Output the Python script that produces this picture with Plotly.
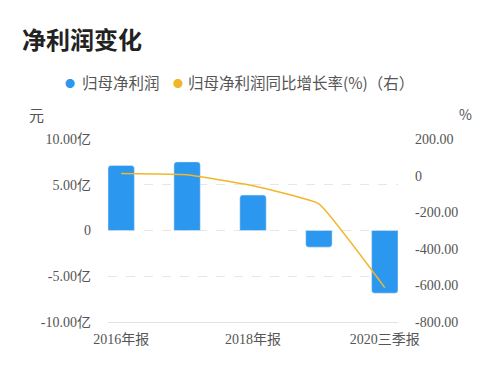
import plotly.graph_objects as go

categories = ["2016年报", "2017年报", "2018年报", "2019年报", "2020三季报"]
net_profit = [7.1, 7.5, 3.87, -1.82, -6.85]          # 亿元
yoy_growth = [11, 4, -55, -154, -612]                 # %
x_tick_cats = ["2016年报", "2018年报", "2020三季报"]
left_ticks = [10, 5, 0, -5, -10]
left_tick_text = ["10.00亿", "5.00亿", "0", "-5.00亿", "-10.00亿"]
right_ticks = [200, 0, -200, -400, -600, -800]
right_tick_text = ["200.00", "0", "-200.00", "-400.00", "-600.00", "-800.00"]

BLUE = "#2b97ee"
GOLD = "#f0b72a"
TICK_FONT = dict(family="Liberation Serif, Noto Sans CJK SC", size=14, color="#555555")
SANS = "Noto Sans CJK SC, Noto Sans, sans-serif"

# page body has an 8px offset; positions below are in figure pixels
OFF = 8
W, H = 500, 372
l, r, t, b = 108 - OFF, W - (398 - OFF), 139 - OFF, H - (322 - OFF)

fig = go.Figure()
fig.add_trace(go.Bar(
    x=categories, y=net_profit, name="归母净利润",
    marker=dict(color=BLUE, cornerradius=3), width=0.4, showlegend=False,
))
fig.add_trace(go.Scatter(
    x=categories, y=yoy_growth, name="归母净利润同比增长率(%)（右）",
    mode="lines", line=dict(color=GOLD, width=1.5, shape="spline", smoothing=0.3),
    yaxis="y2", showlegend=False,
))

fig.update_layout(
    width=W, height=H,
    margin=dict(l=l, r=r, t=t, b=b, autoexpand=False),
    paper_bgcolor="white", plot_bgcolor="white",
    xaxis=dict(
        type="category", range=[-0.2, 4.2],
        tickmode="array", tickvals=x_tick_cats, ticktext=x_tick_cats,
        showgrid=False, showline=True, linecolor="#e3e3e3", linewidth=1,
        ticks="", tickfont=TICK_FONT, ticklabelstandoff=4,
    ),
    yaxis=dict(
        range=[-10, 10], tickmode="array", tickvals=left_ticks, ticktext=left_tick_text,
        showgrid=True, gridcolor="#e6e6e6", griddash="dash", gridwidth=1,
        zeroline=False, showline=False, ticks="",
        tickfont=TICK_FONT, ticklabelstandoff=16,
    ),
    yaxis2=dict(
        range=[-800, 200], overlaying="y", side="right",
        tickmode="array", tickvals=right_ticks, ticktext=right_tick_text,
        showgrid=False, zeroline=False, showline=False, ticks="",
        tickfont=TICK_FONT, ticklabelstandoff=16,
    ),
    showlegend=False,
)

pw, ph = W - l - r, H - t - b


def ann(text, x, y, size, color, xanchor="left", family=SANS):
    # x, y are screen pixel positions in the reference
    fx, fy = x - OFF, y - OFF
    return dict(text=text, x=(fx - l) / pw, y=(H - b - fy) / ph,
                xref="paper", yref="paper", showarrow=False,
                xanchor=xanchor, yanchor="middle",
                font=dict(size=size, color=color, family=family))


fig.layout.annotations = [
    ann("<b>净利润变化</b>", 20, 38, 24, "#222222"),
    ann("●", 70, 83, 10, BLUE, "center"),
    ann("归母净利润", 80, 82, 15.5, "#555555"),
    ann("●", 178, 83, 10, GOLD, "center"),
    ann("归母净利润同比增长率(%)（右）", 186, 82, 15.5, "#555555"),
    ann("元", 36, 114, 15, "#555555", "center"),
    ann("%", 465, 114, 14, "#555555", "center"),
]

fig.write_html("out.html")
